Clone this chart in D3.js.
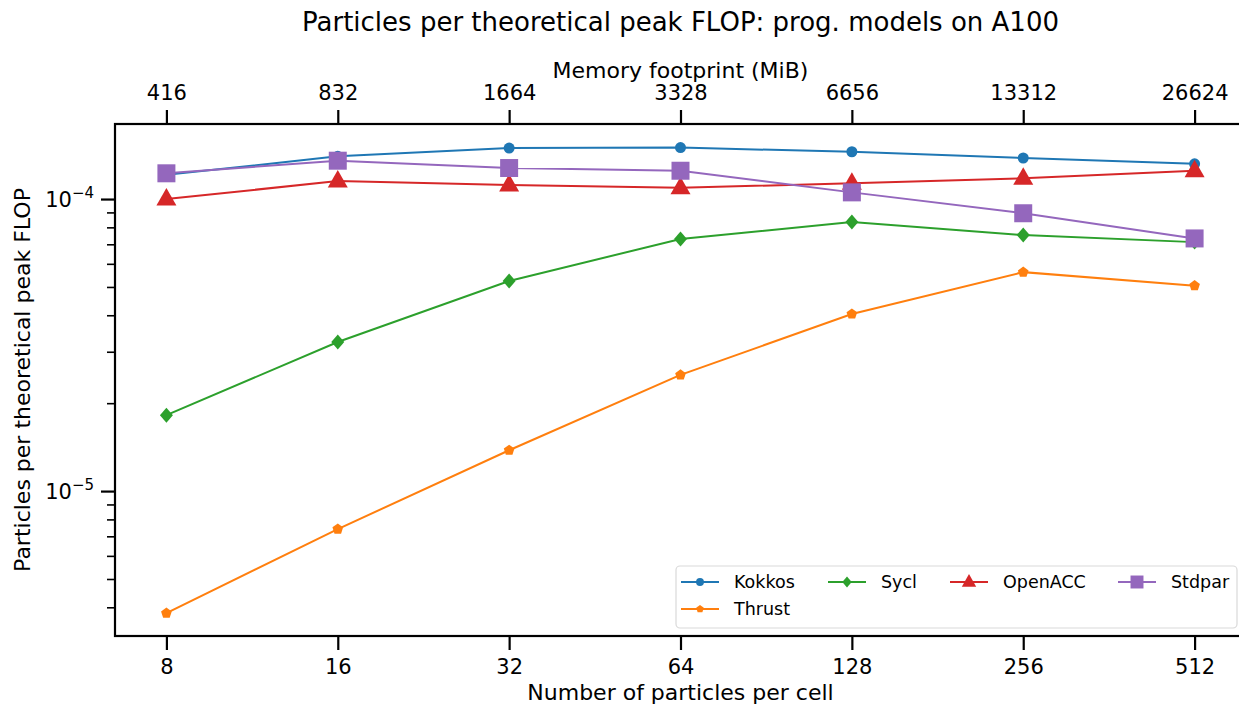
<!DOCTYPE html>
<html>
<head>
<meta charset="utf-8">
<script src="https://cdn.jsdelivr.net/npm/d3@7"></script>
<style>
  body { margin: 0; background: #fff; }
  text { font-family: "DejaVu Sans", sans-serif; fill: #000; }
</style>
</head>
<body>
<svg id="chart" width="1239" height="705"></svg>
<script>
const particles = [8, 16, 32, 64, 128, 256, 512]
const memory = [416, 832, 1664, 3328, 6656, 13312, 26624]

const kokkos = [1.21e-4, 1.40e-4, 1.495e-4, 1.50e-4, 1.452e-4, 1.382e-4, 1.32e-4]
const thrust = [3.82e-6, 7.41e-6, 1.38e-5, 2.50e-5, 4.04e-5, 5.62e-5, 5.05e-5]
const sycl = [1.82e-5, 3.24e-5, 5.24e-5, 7.30e-5, 8.34e-5, 7.53e-5, 7.12e-5]
const openacc = [1.0e-4, 1.152e-4, 1.117e-4, 1.093e-4, 1.132e-4, 1.177e-4, 1.25e-4]
const stdpar = [1.225e-4, 1.353e-4, 1.277e-4, 1.25e-4, 1.054e-4, 0.894e-4, 7.33e-5]

const series = [
  {name: 'Kokkos', values: kokkos, color: '#1f77b4', marker: 'circle'},
  {name: 'Thrust', values: thrust, color: '#ff7f0e', marker: 'pentagon'},
  {name: 'Sycl', values: sycl, color: '#2ca02c', marker: 'diamond'},
  {name: 'OpenACC', values: openacc, color: '#d62728', marker: 'triangle'},
  {name: 'Stdpar', values: stdpar, color: '#9467bd', marker: 'square'}
]

const svg = d3.select('#chart')
const pLeft = 115, pRight = 1246, pTop = 124, pBottom = 636

// log2 x with 5% margins like matplotlib
const x = d3.scaleLog().base(2)
  .domain([8 / Math.pow(2, 0.3), 512 * Math.pow(2, 0.3)])
  .range([pLeft, pRight])
const y = d3.scaleLog()
  .domain([3.19e-6, 1.807e-4])
  .range([pBottom, pTop])

// marker shapes
function markerPath(type) {
  switch (type) {
    case 'circle': return d3.symbol(d3.symbolCircle, 95)()
    case 'pentagon': {
      const r = 5.6
      return d3.range(5).map((i, k) => {
        const a = -Math.PI / 2 + i * 2 * Math.PI / 5
        return (k ? 'L' : 'M') + (r * Math.cos(a)).toFixed(2) + ',' + (r * Math.sin(a)).toFixed(2)
      }).join('') + 'Z'
    }
    case 'diamond': return 'M0,-7.5L6.5,0L0,7.5L-6.5,0Z'
    case 'triangle': return 'M0,-11L10,6.5L-10,6.5Z'
    case 'square': return 'M-9,-9H9V9H-9Z'
  }
}

// series
const line = d3.line().x((d, i) => x(particles[i])).y(d => y(d))
series.forEach(s => {
  const g = svg.append('g')
  g.append('path')
    .attr('d', line(s.values))
    .attr('fill', 'none')
    .attr('stroke', s.color)
    .attr('stroke-width', 2)
  g.selectAll('path.mk')
    .data(s.values)
    .enter()
    .append('path')
      .attr('class', 'mk')
      .attr('d', markerPath(s.marker))
      .attr('transform', (d, i) => `translate(${x(particles[i])},${y(d)})`)
      .attr('fill', s.color)
})

// frame
svg.append('rect')
  .attr('x', pLeft).attr('y', pTop)
  .attr('width', pRight - pLeft).attr('height', pBottom - pTop)
  .attr('fill', 'none').attr('stroke', '#000').attr('stroke-width', 2.2)

// bottom axis
const xAxis = svg.append('g')
  .attr('transform', `translate(0,${pBottom})`)
  .call(d3.axisBottom(x).tickValues(particles).tickFormat(d => d).tickSize(14).tickPadding(9))
// top axis (memory footprint)
const xTop = svg.append('g')
  .attr('transform', `translate(0,${pTop})`)
  .call(d3.axisTop(x).tickValues(particles).tickFormat((d, i) => memory[i]).tickSize(14).tickPadding(10))

// y axis minor + major
const minor = []
for (let e = -6; e <= -4; e++) for (let m = 2; m <= 9; m++) {
  const v = m * Math.pow(10, e)
  if (v > y.domain()[0] && v < y.domain()[1]) minor.push(v)
}
const yMinor = svg.append('g')
  .attr('transform', `translate(${pLeft},0)`)
  .call(d3.axisLeft(y).tickValues(minor).tickFormat('').tickSize(8))
const yMajor = svg.append('g')
  .attr('transform', `translate(${pLeft},0)`)
  .call(d3.axisLeft(y).tickValues([1e-5, 1e-4]).tickFormat('').tickSize(14))

yMajor.selectAll('.tick').each(function(d) {
  const t = d3.select(this).append('text')
    .attr('x', -21).attr('dy', '0.36em')
    .attr('text-anchor', 'end')
    .style('font-size', '21px')
  t.append('tspan').text('10')
  t.append('tspan').attr('dy', -9).style('font-size', '15px')
    .text('\u2212' + Math.round(-Math.log10(d)))
})

svg.selectAll('.domain').remove()
svg.selectAll('.tick line').attr('stroke', '#000').attr('stroke-width', 2.2)
yMinor.selectAll('.tick line').attr('stroke-width', 1.6)
xAxis.selectAll('text').style('font-size', '21px')
xTop.selectAll('text').style('font-size', '21px')

// labels
svg.append('text').attr('x', (pLeft + pRight) / 2).attr('y', 31)
  .attr('text-anchor', 'middle').style('font-size', '26px')
  .text('Particles per theoretical peak FLOP: prog. models on A100')
svg.append('text').attr('x', (pLeft + pRight) / 2).attr('y', 78)
  .attr('text-anchor', 'middle').style('font-size', '22px')
  .text('Memory footprint (MiB)')
svg.append('text').attr('x', (pLeft + pRight) / 2).attr('y', 700)
  .attr('text-anchor', 'middle').style('font-size', '22px')
  .text('Number of particles per cell')
svg.append('text')
  .attr('transform', `translate(30,${(pTop + pBottom) / 2}) rotate(-90)`)
  .attr('text-anchor', 'middle').style('font-size', '22px')
  .text('Particles per theoretical peak FLOP')

// legend (4 columns, filled column-wise)
const legend = svg.append('g')
legend.append('rect')
  .attr('x', 676).attr('y', 566).attr('width', 561).attr('height', 62).attr('rx', 4)
  .attr('fill', '#fff').attr('fill-opacity', 0.8)
  .attr('stroke', '#d9d9d9').attr('stroke-width', 1.2)
const legendPos = [
  {x: 681, y: 582}, {x: 681, y: 609}, {x: 828, y: 582}, {x: 950, y: 582}, {x: 1118, y: 582}
]
series.forEach((s, i) => {
  const p = legendPos[i]
  const g = legend.append('g').attr('transform', `translate(${p.x},${p.y})`)
  g.append('line').attr('x1', 0).attr('x2', 38).attr('stroke', s.color).attr('stroke-width', 2)
  g.append('path').attr('d', markerPath(s.marker)).attr('transform', 'translate(19,0) scale(0.72)').attr('fill', s.color)
  g.append('text').attr('x', 53).attr('dy', '0.36em').style('font-size', '17.5px').text(s.name)
})
</script>
</body>
</html>
